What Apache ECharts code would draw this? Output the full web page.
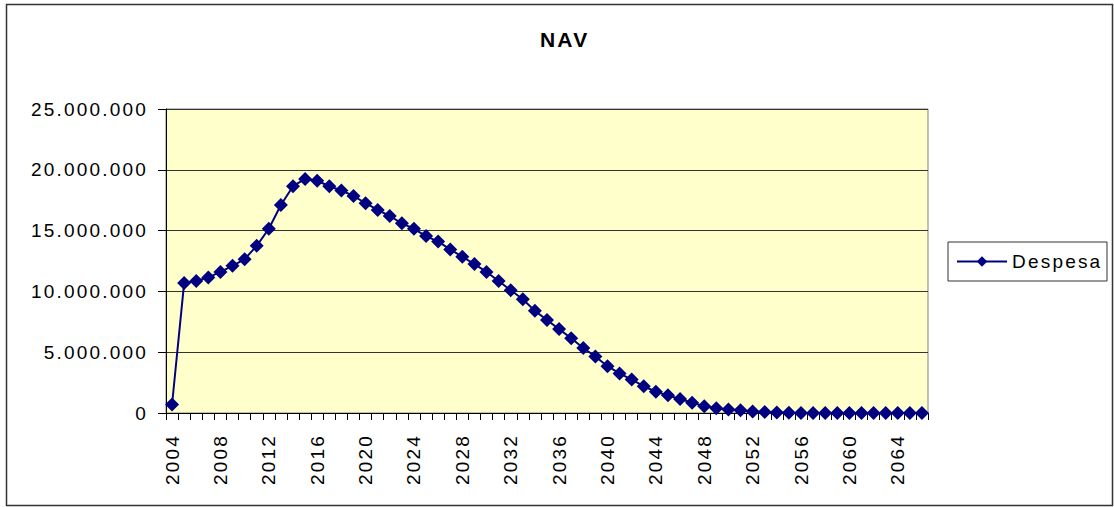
<!DOCTYPE html>
<html>
<head>
<meta charset="utf-8">
<script src="https://cdn.jsdelivr.net/npm/echarts@6/dist/echarts.min.js"></script>
<style>
  html, body { margin: 0; padding: 0; background: #fff; }
  #chart { width: 1114px; height: 507px; }
  #chart text { letter-spacing: 2.2px; }
</style>
</head>
<body>
<div id="chart"></div>
<script>
const years = [
  '2004', '2005', '2006', '2007', '2008', '2009', '2010', '2011', '2012', '2013',
  '2014', '2015', '2016', '2017', '2018', '2019', '2020', '2021', '2022', '2023',
  '2024', '2025', '2026', '2027', '2028', '2029', '2030', '2031', '2032', '2033',
  '2034', '2035', '2036', '2037', '2038', '2039', '2040', '2041', '2042', '2043',
  '2044', '2045', '2046', '2047', '2048', '2049', '2050', '2051', '2052', '2053',
  '2054', '2055', '2056', '2057', '2058', '2059', '2060', '2061', '2062', '2063',
  '2064', '2065', '2066',
];

// Despesa per year
const despesa = [
  700000, 10700000, 10850000, 11150000, 11600000, 12100000, 12650000, 13750000, 15150000, 17100000,
  18650000, 19250000, 19100000, 18650000, 18300000, 17850000, 17250000, 16700000, 16200000, 15600000,
  15150000, 14550000, 14100000, 13450000, 12850000, 12250000, 11600000, 10850000, 10100000, 9350000,
  8400000, 7650000, 6900000, 6150000, 5350000, 4650000, 3850000, 3250000, 2750000, 2200000,
  1750000, 1450000, 1150000, 850000, 550000, 400000, 280000, 220000, 120000, 80000,
  40000, 20000, 10000, 10000, 5000, 0, 0, 0, 0, 0,
  0, 0, 0,
];

const yTicks = [0, 5000000, 10000000, 15000000, 20000000, 25000000];

const fmt = (v) => String(v).replace(/\B(?=(\d{3})+(?!\d))/g, '.');
const font = 'Liberation Sans, Arial, sans-serif';

const chart = echarts.init(document.getElementById('chart'), null, { renderer: 'svg' });

chart.setOption({
  animation: false,
  backgroundColor: '#fff',
  textStyle: { fontFamily: font },
  title: {
    text: 'NAV',
    left: 535,
    top: 24,
    textStyle: { fontFamily: font, fontSize: 21, fontWeight: 'bold', color: '#000' },
  },
  legend: {
    data: ['Despesa'],
    left: 948,
    top: 242,
    orient: 'vertical',
    padding: [10, 20, 10, 8],
    itemWidth: 50,
    itemHeight: 13,
    itemGap: 6,
    borderColor: '#333',
    borderWidth: 1,
    textStyle: { fontFamily: font, fontSize: 19, color: '#000' },
  },
  grid: {
    left: 166,
    right: 186,
    top: 109,
    bottom: 94,
    show: true,
    backgroundColor: '#ffffcc',
    borderColor: '#808080',
    borderWidth: 1,
  },
  xAxis: {
    type: 'category',
    data: years,
    boundaryGap: true,
    axisLine: { lineStyle: { color: '#000', width: 1 } },
    axisTick: { show: true, interval: 0, length: 7, lineStyle: { color: '#000' } },
    axisLabel: {
      interval: 3,
      rotate: 90,
      margin: 21,
      fontSize: 19,
      color: '#000',
      fontFamily: font,
    },
    splitLine: { show: false },
  },
  yAxis: {
    type: 'value',
    min: yTicks[0],
    max: yTicks[yTicks.length - 1],
    interval: 5000000,
    axisLine: { show: true, lineStyle: { color: '#000', width: 1 } },
    axisTick: { show: true, length: 8, lineStyle: { color: '#000' } },
    axisLabel: {
      margin: 18,
      fontSize: 19,
      color: '#000',
      fontFamily: font,
      formatter: fmt,
    },
    splitLine: { show: true, lineStyle: { color: '#333', width: 1 } },
  },
  graphic: [
    {
      type: 'rect',
      shape: { x: 6.5, y: 4.5, width: 1106, height: 501 },
      style: { fill: 'none', stroke: '#333', lineWidth: 1.5 },
      silent: true,
    },
  ],
  series: [
    {
      name: 'Despesa',
      type: 'line',
      data: despesa,
      symbol: 'diamond',
      symbolSize: 14,
      showAllSymbol: true,
      clip: false,
      lineStyle: { color: '#000080', width: 2 },
      itemStyle: { color: '#000080' },
    },
  ],
});
</script>
</body>
</html>
